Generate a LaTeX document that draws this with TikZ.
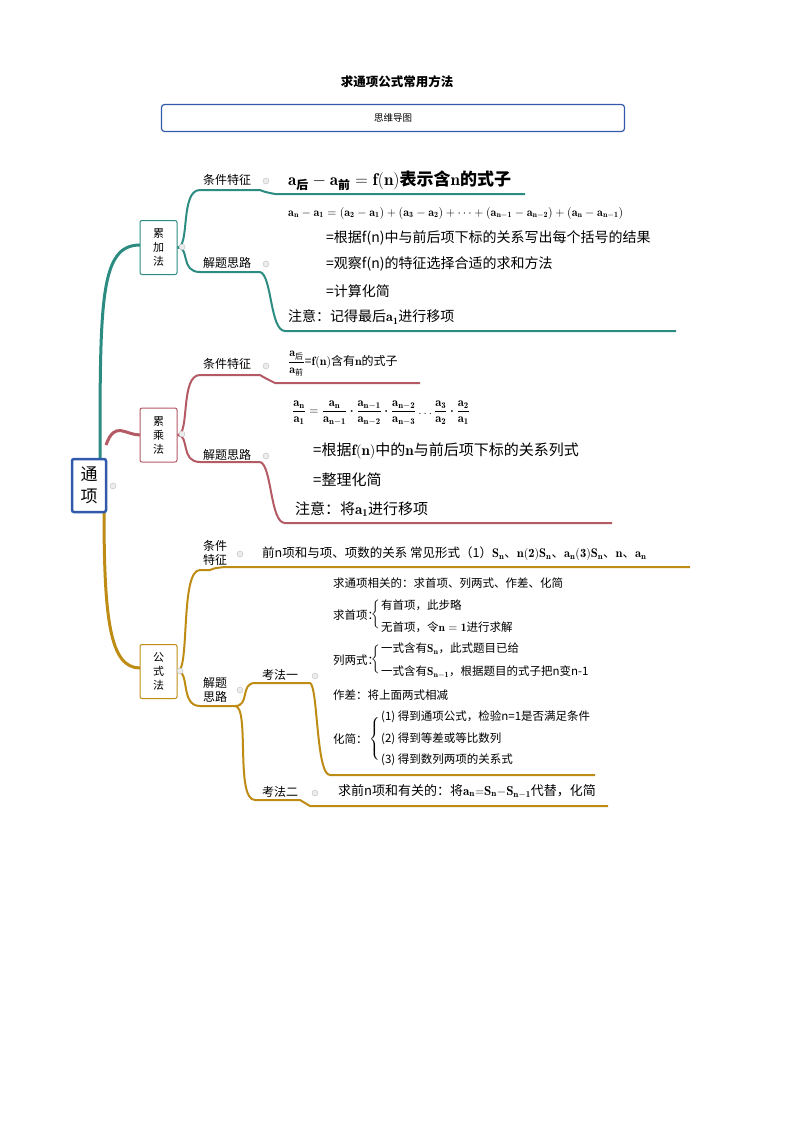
\documentclass[tikz,border=0pt]{standalone}
\usepackage{fontspec}
\usepackage{amsmath}
\newfontfamily\cjk{Noto Sans CJK SC}
\definecolor{tealc}{RGB}{45,140,130}
\definecolor{redc}{RGB}{180,90,100}
\definecolor{goldc}{RGB}{190,140,20}
\definecolor{blueb}{RGB}{50,90,170}
\newcommand{\fs}[1]{\cjk\fontsize{#1}{#1}\selectfont}
\tikzset{
  txt/.style={anchor=west,inner sep=0pt,font=\fs{14}},
  lbl/.style={anchor=west,inner sep=0pt,font=\cjk\fontsize{12}{14}\selectfont,align=center},
  box/.style={draw=#1,line width=1pt,rounded corners=2pt,minimum width=37pt,minimum height=54pt,align=center,font=\cjk\fontsize{11}{14}\selectfont,fill=white},
  dot/.style={circle,draw=gray!50,fill=gray!15,inner sep=0pt,minimum size=6pt}
}
\begin{document}
\begin{tikzpicture}[x=1pt,y=-1pt]
\useasboundingbox (0,0) rectangle (794,1122);
\fill[white] (0,0) rectangle (794,1122);
\node[inner sep=0pt,font=\cjk\bfseries\fontsize{12.5}{14}\selectfont] (title) at (397,82) {求通项公式常用方法};
\node[draw=blueb,line width=1.2pt,rounded corners=3pt,minimum width=463pt,minimum height=27pt,font=\fs{9.5}] (sub) at (393,118) {思维导图};
% trunks
\draw[tealc,line width=3pt] (100,462) .. controls (100,300) and (100,245) .. (140,245);
\draw[redc,line width=3pt] (106,445) .. controls (115,420) and (125,435) .. (140,435);
\draw[goldc,line width=3pt] (104,510) .. controls (104,620) and (110,668) .. (140,668);
% boxes
\node[box=tealc] (b1) at (158.5,247.5) {累\\加\\法};
\node[box=redc] (b2) at (158.5,435) {累\\乘\\法};
\node[box=goldc] (b3) at (158.5,671.5) {公\\式\\法};
\node[draw=blueb,line width=2.5pt,rounded corners=2pt,minimum width=34pt,minimum height=53pt,font=\cjk\fontsize{17}{22}\selectfont,align=center,fill=white] (root) at (89,485.5) {通\\项};
\node[dot] at (113,486) {};
% teal
\draw[tealc,line width=2pt] (b1.east) .. controls (190,247) and (180,190) .. (200,190) -- (260,190) .. controls (265,192) .. (275,194) -- (525,194);
\draw[tealc,line width=2pt] (b1.east) .. controls (190,247) and (180,272) .. (200,272) -- (260,272) .. controls (272,275) and (270,331) .. (285,331) -- (676,331);
\node[dot] at (182,247) {};
\node[lbl] (k1) at (203,180) {条件特征}; \node[dot] at (266,181) {};
\node[lbl] (k2) at (203,263) {解题思路}; \node[dot] at (266,264) {};
\node[txt,font=\cjk\bfseries\fontsize{17}{19}\selectfont] (t1) at (288,181) {$\mathbf{a}_{\text{后}}-\mathbf{a}_{\text{前}}=\mathbf{f(n)}$表示含$\mathbf{n}$的式子};
\node[txt,font=\cjk\bfseries\fontsize{12}{14}\selectfont] (t2) at (288,213) {$\mathbf{a_n-a_1=(a_2-a_1)+(a_3-a_2)+\dots+(a_{n-1}-a_{n-2})+(a_n-a_{n-1})}$};
\node[txt] (t3) at (326,238) {=根据f(n)中与前后项下标的关系写出每个括号的结果};
\node[txt] (t4) at (326,264) {=观察f(n)的特征选择合适的求和方法};
\node[txt] (t5) at (326,291) {=计算化简};
\node[txt] (t6) at (288,317) {注意：记得最后$\mathbf{a_1}$进行移项};
% red
\draw[redc,line width=2pt] (b2.east) .. controls (190,435) and (180,375) .. (200,375) -- (260,375) .. controls (265,378) .. (275,383) -- (420,383);
\draw[redc,line width=2pt] (b2.east) .. controls (190,435) and (180,462) .. (200,462) -- (260,462) .. controls (272,465) and (270,523) .. (285,523) -- (612,523);
\node[dot] at (182,434) {};
\node[lbl] (r1) at (203,364) {条件特征}; \node[dot] at (266,366) {};
\node[lbl] (r2) at (203,455) {解题思路}; \node[dot] at (266,456) {};
\node[txt,font=\fs{12}] (u1) at (288,364) {$\displaystyle\frac{\mathbf{a}_{\text{后}}}{\mathbf{a}_{\text{前}}}$=$\mathbf{f(n)}$含有$\mathbf{n}$的式子};
\node[txt,font=\fs{12.5}] (u2) at (292,413) {$\displaystyle\mathbf{\frac{a_n}{a_1}=\frac{a_n}{a_{n-1}}\boldsymbol{\cdot}\frac{a_{n-1}}{a_{n-2}}\boldsymbol{\cdot}\frac{a_{n-2}}{a_{n-3}}\dots\frac{a_3}{a_2}\boldsymbol{\cdot}\frac{a_2}{a_1}}$};
\node[txt,font=\fs{15}] (u3) at (313,451) {=根据$\mathbf{f(n)}$中的$\mathbf{n}$与前后项下标的关系列式};
\node[txt,font=\fs{15}] (u4) at (313,480) {=整理化简};
\node[txt,font=\fs{15}] (u5) at (295,509) {注意：将$\mathbf{a_1}$进行移项};
% gold
\draw[goldc,line width=2pt] (b3.east) .. controls (190,671) and (180,570) .. (200,570) -- (210,570) .. controls (215,568) .. (225,567) -- (690,567);
\draw[goldc,line width=2pt] (b3.east) .. controls (190,671) and (180,706) .. (200,706) -- (235,706);
\draw[goldc,line width=2pt] (235,706) .. controls (250,706) and (240,683) .. (255,683) -- (310,683) .. controls (318,686) and (316,775) .. (330,775) -- (595,775);
\draw[goldc,line width=2pt] (235,706) .. controls (250,706) and (235,800) .. (255,800) -- (300,800) .. controls (305,803) .. (310,806) -- (608,806);
\node[dot] at (180,671) {};
\node[lbl] (g1) at (203,553) {条件\\特征}; \node[dot] at (240,554) {};
\node[lbl] (g2) at (203,690) {解题\\思路}; \node[dot] at (240,690) {};
\node[lbl] (g3) at (262,675) {考法一}; \node[dot] at (315,676) {};
\node[lbl] (g4) at (262,792) {考法二}; \node[dot] at (315,793) {};
\node[txt,font=\fs{12.5}] (v1) at (262,554) {前n项和与项、项数的关系 常见形式（1）$\mathbf{S_n}$、$\mathbf{n(2)S_n}$、$\mathbf{a_n(3)S_n}$、$\mathbf{n}$、$\mathbf{a_n}$};
\node[txt,font=\fs{11.5}] (v2) at (333,583) {求通项相关的：求首项、列两式、作差、化简};
\node[txt,font=\fs{11.5}] (v3) at (333,615) {求首项：};
\node[inner sep=0pt,font=\fs{11.5}] (br1) at (376,615) {$\left\{\vrule height 12pt depth 12pt width 0pt\right.$};
\node[txt,font=\fs{11.5}] (v3a) at (381,605) {有首项，此步略};
\node[txt,font=\fs{11.5}] (v3b) at (381,627) {无首项，令$\mathbf{n=1}$进行求解};
\node[txt,font=\fs{11.5}] (v4) at (333,660) {列两式：};
\node[inner sep=0pt,font=\fs{11.5}] (br2) at (376,660) {$\left\{\vrule height 12pt depth 12pt width 0pt\right.$};
\node[txt,font=\fs{11.5}] (v4a) at (381,649) {一式含有$\mathbf{S_n}$，此式题目已给};
\node[txt,font=\fs{11.5}] (v4b) at (381,672) {一式含有$\mathbf{S_{n-1}}$，根据题目的式子把n变n-1};
\node[txt,font=\fs{11.5}] (v5) at (333,695) {作差：将上面两式相减};
\node[txt,font=\fs{11.5}] (v6) at (333,739) {化简：};
\node[inner sep=0pt,font=\fs{11.5}] (br3) at (375,739) {$\left\{\vrule height 18pt depth 18pt width 0pt\right.$};
\node[txt,font=\fs{11.5}] (v6a) at (381,717) {(1) 得到通项公式，检验n=1是否满足条件};
\node[txt,font=\fs{11.5}] (v6b) at (381,739) {(2) 得到等差或等比数列};
\node[txt,font=\fs{11.5}] (v6c) at (381,760) {(3) 得到数列两项的关系式};
\node[txt,font=\fs{13}] (v7) at (338,791) {求前n项和有关的：将$\mathbf{a_n{=}S_n{-}S_{n-1}}$代替，化简};
\end{tikzpicture}
\end{document}
